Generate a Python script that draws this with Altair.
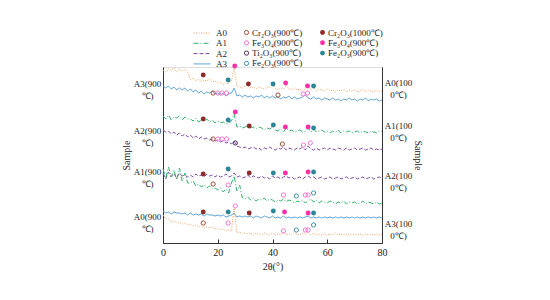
import json
import altair as alt
import pandas as pd

# ---------------- data ----------------
two_theta = list(range(81))

# stacked XRD patterns (vertical offset units, 0 = bottom of plot)
a0_1000 = [173,171,174,172,175,171,174,172,174,171,
           163,165,162,164,161,163,162,164,161,162,
           160,161,158,160,159,162,175,157,156,155,
           157,160,155,156,154,156,155,154,156,155,
           159,155,153,155,154,158,154,153,155,153,
           154,152,154,157,153,157,152,154,153,152,
           154,152,153,151,153,152,154,151,153,152,
           153,151,152,154,151,153,152,151,153,151,152]
a3_900 = [157,155,157,154,156,153,155,153,155,152,
          154,151,153,150,152,149,151,150,152,149,
          150,148,150,147,149,150,155,147,148,146,
          148,146,147,145,147,146,148,145,147,145,
          147,145,146,144,146,145,147,144,146,144,
          145,146,148,145,144,146,144,145,143,145,
          144,143,145,143,144,142,144,143,145,143,
          144,142,144,143,145,142,144,143,144,142,143]
a1_1000 = [127,124,128,123,126,125,127,123,126,124,
           124,122,125,121,123,122,124,121,123,120,
           122,120,121,119,120,122,129,116,117,115,
           116,118,115,116,114,116,115,113,115,114,
           116,113,112,114,111,115,112,113,111,112,
           113,111,112,115,111,114,111,112,113,111,
           112,110,112,111,113,110,112,111,112,110,
           111,112,110,112,111,110,112,111,110,112,111]
a2_900 = [113,111,112,109,111,108,110,107,109,106,
          108,105,107,104,106,104,105,103,104,102,
          103,101,102,100,101,99,102,97,96,95,
          96,94,95,96,94,95,93,95,94,96,
          94,93,95,94,96,93,95,94,93,95,
          94,96,93,97,94,93,95,93,94,95,
          93,95,94,93,95,94,93,95,93,94,
          95,93,94,95,93,94,95,93,94,93,94]
a2_1000 = [70,64,71,66,69,65,70,67,68,66,
           68,66,69,67,68,66,69,67,68,66,
           68,66,67,69,66,67,70,66,67,65,
           66,68,65,67,66,65,67,65,66,64,
           67,65,66,64,66,67,65,66,64,65,
           66,64,66,67,65,66,64,65,66,64,
           65,66,64,65,66,64,65,66,64,65,
           66,64,65,66,64,65,66,64,65,66,65]
a1_900 = [74,65,76,66,73,63,75,62,70,60,
          60,62,57,59,56,58,55,57,54,55,
          53,55,51,54,50,60,67,52,58,45,
          44,46,43,45,42,44,43,45,42,44,
          43,41,43,42,44,41,43,42,40,42,
          41,43,40,42,44,41,43,40,42,41,
          40,42,41,39,41,40,42,39,41,40,
          41,39,40,42,39,41,40,39,41,39,40]
a3_1000 = [32,30,31,29,31,30,30,29,30,28,
           30,28,29,28,29,27,29,28,28,27,
           28,27,28,26,27,28,30,26,27,26,
           27,26,27,25,27,26,25,27,26,25,
           27,25,26,25,27,25,26,25,26,25,
           26,25,26,27,25,26,25,26,25,26,
           25,26,25,26,25,26,25,26,25,26,
           25,26,25,26,25,26,25,26,25,26,25]
a0_900 = [28,24,25,21,22,20,21,19,20,18,
          19,17,18,16,17,15,16,15,16,14,
          15,13,14,12,13,12,35,10,11,9,
          10,9,10,8,10,9,8,10,9,8,
          10,8,9,8,11,8,9,8,10,9,
          8,10,9,11,8,10,8,9,8,9,
          8,9,8,10,8,9,8,9,8,9,
          9,8,9,8,9,8,9,8,9,8,9]

trace_ids = ["A0_1000", "A3_900", "A1_1000", "A2_900", "A2_1000", "A1_900", "A3_1000", "A0_900"]
trace_series = ["A0", "A3", "A1", "A2", "A2", "A1", "A3", "A0"]
trace_values = [a0_1000, a3_900, a1_1000, a2_900, a2_1000, a1_900, a3_1000, a0_900]

series_names = ["A0", "A1", "A2", "A3"]
series_colors = ["#F0A060", "#2EB36A", "#7C4DA8", "#4C9AD6"]
series_dashes = [[1, 1.5], [5, 2, 1, 2], [4, 2], [1, 0]]

# phase markers on the 1000 C patterns (filled)
filled_phases = ["Cr₂O₃(1000℃)", "Fe₃O₄(900℃)", "Fe₂O₃(900℃)"]
filled_colors = ["#8E2B2B", "#FF2FA8", "#2C8595"]
filled_x = [14.7, 23.8, 26.2, 31.2, 40.2, 44.8, 52.8, 55.0,
            14.7, 23.8, 26.4, 31.5, 40.3, 44.7, 53.0, 55.0,
            14.7, 23.8, 31.5, 40.3, 44.7, 53.0, 55.0,
            14.7, 23.8, 31.5, 40.3, 44.4, 53.0, 55.0]
filled_u = [168, 163, 177, 159, 159, 160, 157, 157,
            124, 123, 131, 117, 118, 116, 116, 115,
            69, 74, 70, 70, 70, 71, 71,
            31, 31, 30, 32, 31, 30, 30]
filled_k = [0, 2, 1, 0, 2, 1, 1, 2,
            0, 2, 1, 0, 2, 1, 1, 2,
            0, 2, 0, 2, 1, 1, 2,
            0, 2, 0, 2, 1, 1, 2]

# phase markers on the 900 C patterns (hollow)
hollow_phases = ["Cr₂O₃(900℃)", "Fe₃O₄(900℃)", "Ti₂O₃(900℃)", "Fe₂O₃(900℃)"]
hollow_colors = ["#A0523A", "#F27AD0", "#4A2E5E", "#3A93A6"]
hollow_x = [18.3, 20.0, 21.6, 23.2, 42.0, 51.2, 52.8,
            18.3, 20.0, 21.6, 23.2, 26.4, 43.6, 51.3, 53.8,
            18.3, 23.8, 44.0, 48.7, 52.0, 53.0, 55.0,
            14.7, 23.8, 26.4, 44.0, 48.7, 52.0, 53.0, 55.0]
hollow_u = [150, 150, 150, 150, 148, 149, 150,
            104, 104, 104, 104, 100, 99, 98, 100,
            59, 58, 48, 47, 48, 48, 50,
            20, 20, 37, 12, 13, 13, 13, 18]
hollow_k = [0, 1, 1, 1, 0, 1, 1,
            0, 1, 1, 1, 2, 0, 1, 1,
            0, 1, 1, 3, 1, 1, 3,
            0, 1, 1, 1, 3, 1, 1, 3]

x_ticks = [0, 20, 40, 60, 80]
left_label_u = [160, 113, 72, 27]
left_label_lines = [["A3(900", "℃)"], ["A2(900", "℃)"], ["A1(900", "℃)"], ["A0(900", "℃)"]]
right_label_u = [161, 118, 68, 20]
right_label_lines = [["A0(100", "0℃)"], ["A1(100", "0℃)"], ["A2(100", "0℃)"], ["A3(100", "0℃)"]]

FONT = "Liberation Serif"

# ---------------- tables ----------------
line_rows = []
for tid, s, vals in zip(trace_ids, trace_series, trace_values):
    for x, v in zip(two_theta, vals):
        line_rows.append({"trace": tid, "series": s, "x": x, "u": v})
df_lines = pd.DataFrame(line_rows)

df_filled = pd.DataFrame({"x": filled_x, "u": filled_u,
                          "phase": [filled_phases[k] for k in filled_k]})
df_hollow = pd.DataFrame({"x": hollow_x, "u": hollow_u,
                          "phase": [hollow_phases[k] for k in hollow_k]})


def label_expr(values, lines):
    expr = "''"
    for v, ln in reversed(list(zip(values, lines))):
        expr = f"datum.value == {v} ? {json.dumps(ln, ensure_ascii=False)} : ({expr})"
    return expr


x_scale = alt.Scale(domain=[0, 80], nice=False)
y_scale = alt.Scale(domain=[0, 176], nice=False, zero=False)

x_enc = alt.X("x:Q", scale=x_scale, axis=alt.Axis(
    values=x_ticks, title="2θ(°)", grid=False, labelFont=FONT, labelFontSize=10,
    labelFontWeight="normal", titleFont=FONT, titleFontSize=10, titleFontWeight="normal",
    labelColor="#222", titleColor="#222", domainColor="#333", tickColor="#333",
    tickSize=alt.ExprRef(expr="-4"), labelPadding=8, titlePadding=4, labelFlush=False))

left_axis = alt.Axis(
    orient="left", values=left_label_u, labelExpr=label_expr(left_label_u, left_label_lines),
    ticks=False, grid=False, labelFont=FONT, labelFontSize=9, labelLineHeight=12,
    labelFontWeight="normal", labelColor="#222", labelAlign="center", labelPadding=16,
    labelOverlap=False, labelFlush=False, domainColor="#333", title="Sample", titleFont=FONT,
    titleFontSize=10, titleFontWeight="normal", titleColor="#222", titlePadding=2)

right_axis = alt.Axis(
    orient="right", values=right_label_u, labelExpr=label_expr(right_label_u, right_label_lines),
    ticks=False, grid=False, labelFont=FONT, labelFontSize=9, labelLineHeight=12,
    labelFontWeight="normal", labelColor="#222", labelAlign="center", labelPadding=16,
    labelOverlap=False, labelFlush=False, domainColor="#333", title="Sample", titleFont=FONT,
    titleFontSize=10, titleFontWeight="normal", titleColor="#222", titlePadding=1)

LEG_Y = -39
ROW_PAD = 0.3
line_legend = alt.Legend(
    orient="none", legendX=34, legendY=LEG_Y, title=None, symbolType="M-2,0H2",
    symbolSize=72, symbolStrokeWidth=1, labelFont=FONT, labelFontSize=9,
    labelColor="#222", rowPadding=ROW_PAD, padding=0, labelOffset=9)

lines = alt.Chart(df_lines).mark_line(strokeWidth=1).encode(
    x=x_enc,
    y=alt.Y("u:Q", scale=y_scale, axis=left_axis),
    color=alt.Color("series:N", scale=alt.Scale(domain=series_names, range=series_colors),
                    legend=line_legend),
    strokeDash=alt.StrokeDash("series:N", scale=alt.Scale(domain=series_names, range=series_dashes),
                              legend=line_legend),
    detail="trace:N",
    order="x:Q",
)

hollow = alt.Chart(df_hollow).mark_point(filled=False, size=18, strokeWidth=1, opacity=1).encode(
    x=x_enc,
    y=alt.Y("u:Q", scale=y_scale, axis=None),
    color=alt.Color("phase:N", scale=alt.Scale(domain=hollow_phases, range=hollow_colors),
                    legend=alt.Legend(orient="none", legendX=79, legendY=LEG_Y, title=None,
                                      symbolSize=18, symbolStrokeWidth=1, labelFont=FONT,
                                      labelFontSize=9, labelColor="#222", rowPadding=ROW_PAD,
                                      padding=0, labelOffset=1)),
)

filled = alt.Chart(df_filled).mark_point(filled=True, size=24, opacity=1).encode(
    x=x_enc,
    y=alt.Y("u:Q", scale=y_scale, axis=right_axis),
    color=alt.Color("phase:N", scale=alt.Scale(domain=filled_phases, range=filled_colors),
                    legend=alt.Legend(orient="none", legendX=155, legendY=LEG_Y, title=None,
                                      symbolSize=24, labelFont=FONT, labelFontSize=9,
                                      labelColor="#222", rowPadding=ROW_PAD, padding=0,
                                      labelOffset=1)),
)

chart = alt.layer(lines, hollow, filled).resolve_scale(
    color="independent", strokeDash="independent"
).resolve_axis(
    y="independent"
).properties(
    width=219, height=176,
    autosize=alt.AutoSizeParams(type="none"),
    padding={"left": 155, "top": 59, "right": 150, "bottom": 45},
).configure_view(stroke=None).configure(background="white")

chart.save("out.html", embed_options={"renderer": "svg", "actions": False})
